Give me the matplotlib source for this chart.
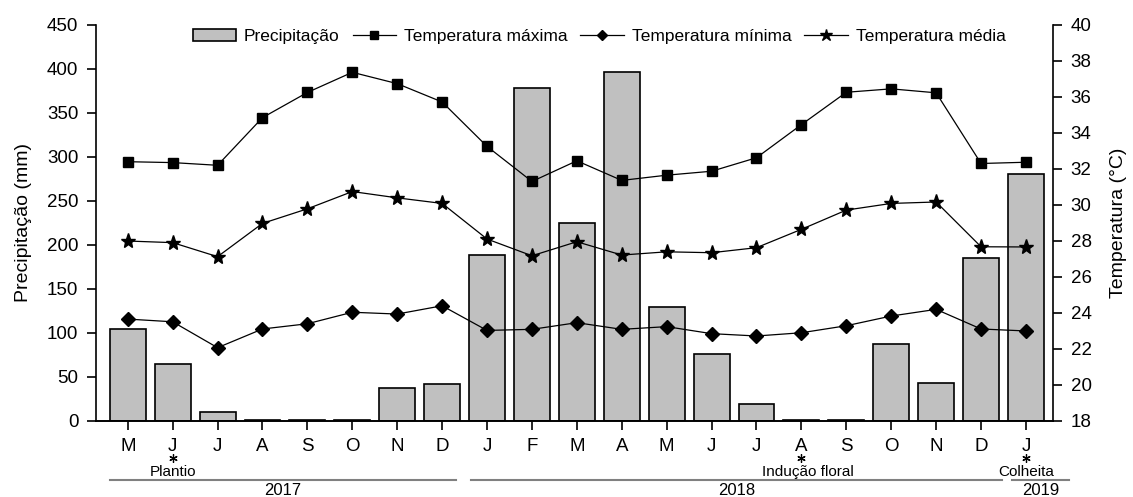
import matplotlib
matplotlib.use('Agg')
import matplotlib.pyplot as plt
from matplotlib.patches import Patch
from matplotlib.lines import Line2D

plt.rcParams['font.family'] = ['Liberation Sans', 'DejaVu Sans']

# dados mensais (mai/2017 - jan/2019)
meses = ['M', 'J', 'J', 'A', 'S', 'O', 'N', 'D', 'J', 'F', 'M', 'A', 'M', 'J', 'J', 'A', 'S', 'O', 'N', 'D', 'J']
precip = [104, 64, 10, 1, 0.5, 1, 37, 42, 188, 378, 225, 396, 129, 76, 19, 0.5, 0.5, 87, 43, 185, 281]
tmax = [32.4, 32.35, 32.2, 34.85, 36.25, 37.37, 36.74, 35.72, 33.25, 31.3, 32.45, 31.36,
        31.65, 31.87, 32.62, 34.46, 36.26, 36.45, 36.23, 32.3, 32.37]
tmin = [23.65, 23.5, 22.06, 23.1, 23.39, 24.03, 23.93, 24.39, 23.02, 23.08, 23.45, 23.08,
        23.23, 22.84, 22.71, 22.89, 23.28, 23.82, 24.19, 23.1, 22.99]
tmed = [27.99, 27.9, 27.12, 28.97, 29.78, 30.74, 30.39, 30.08, 28.1, 27.17, 27.95, 27.21,
        27.39, 27.34, 27.62, 28.64, 29.71, 30.08, 30.16, 27.67, 27.66]

# eventos (indice do mes, texto)
eventos = [(1, 'Plantio'), (15, 'Indução floral'), (20, 'Colheita')]
# anos (inicio, fim, rotulo)
anos = [(-0.39, 7.31, '2017'), (7.65, 19.47, '2018'), (19.69, 20.96, '2019')]

x = list(range(len(meses)))

fig = plt.figure(figsize=(11.33, 4.97), dpi=100)
ax = fig.add_axes([0.0845, 0.1535, 0.8452, 0.7962])
ax2 = ax.twinx()

ax.bar(x, precip, width=0.8, color='#C0C0C0', edgecolor='black', linewidth=1.2, zorder=2)

lw = 0.9
ax2.plot(x, tmax, color='black', lw=lw, marker='s', ms=7.5)
ax2.plot(x, tmin, color='black', lw=lw, marker='D', ms=7)
ax2.plot(x, tmed, color='black', lw=lw, marker='*', ms=11)

ax.set_xlim(-0.713, 20.61)
ax.set_ylim(0, 450)
ax.set_yticks(range(0, 451, 50))
ax2.set_ylim(18, 40)
ax2.set_yticks(range(18, 41, 2))
ax.set_xticks(x)
ax.set_xticklabels(meses)

for a in (ax, ax2):
    a.spines['top'].set_visible(False)
    for s in a.spines.values():
        s.set_linewidth(1.2)
ax.spines['right'].set_visible(False)
ax2.spines['left'].set_visible(False)

ax.tick_params(axis='both', direction='out', length=6.5, width=1.2, labelsize=13.5)
ax.tick_params(axis='x', pad=6)
ax.tick_params(axis='y', pad=6)
ax2.tick_params(axis='y', direction='out', length=6.5, width=1.2, labelsize=13.5, pad=6)

ax.set_ylabel('Precipitação (mm)', fontsize=14)
ax.yaxis.set_label_coords(-0.067, 0.5)
ax2.set_ylabel('Temperatura (°C)', fontsize=14)
ax2.yaxis.set_label_coords(1.059, 0.5)

# legenda
handles = [
    Patch(facecolor='#C0C0C0', edgecolor='black', linewidth=1.2),
    Line2D([], [], color='black', lw=lw, marker='s', ms=6),
    Line2D([], [], color='black', lw=lw, marker='D', ms=5.5),
    Line2D([], [], color='black', lw=lw, marker='*', ms=9),
]
labels = ['Precipitação', 'Temperatura máxima', 'Temperatura mínima', 'Temperatura média']
ax2.legend(handles, labels, loc='center', bbox_to_anchor=(0.5256, 0.970), ncol=4,
           frameon=False, fontsize=12.5, handlelength=2.5, handletextpad=0.45,
           columnspacing=0.75, borderpad=0, borderaxespad=0)

# anotacoes abaixo do eixo
tr = ax.get_xaxis_transform()
for i, txt in eventos:
    ax.plot([i], [-0.094], transform=tr, marker=(6, 2, 0), ms=6, mew=0.9,
            color='black', clip_on=False)
    xt = i + 0.15 if i == 15 else i
    ax.text(xt, -0.140, txt, transform=tr, ha='center', va='baseline', fontsize=11)
for x0, x1, ano in anos:
    ax.plot([x0, x1], [-0.150, -0.150], transform=tr, color='#808080', lw=1.5, clip_on=False)
    ax.text((x0 + x1) / 2, -0.189, ano, transform=tr, ha='center', va='baseline', fontsize=12)

fig.savefig('out.png', dpi=100)
